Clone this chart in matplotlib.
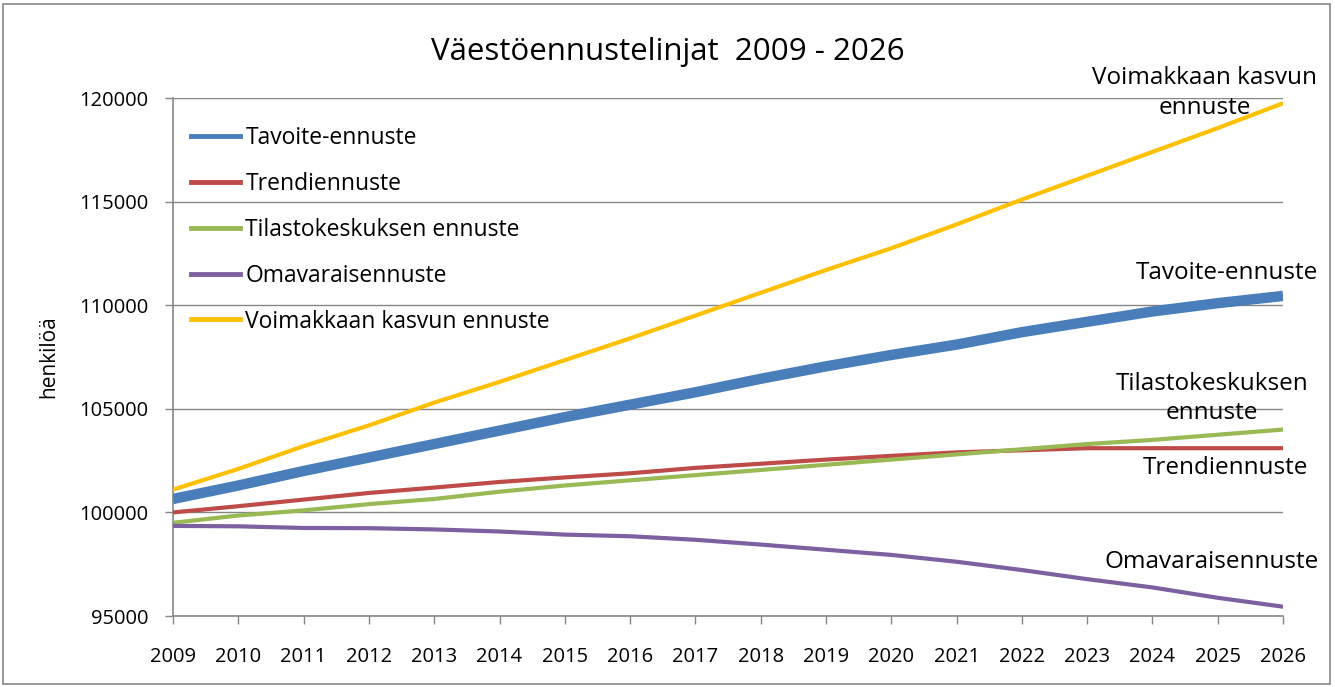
import matplotlib.pyplot as plt
from matplotlib.lines import Line2D
from matplotlib.patches import Rectangle

plt.rcParams['font.family'] = ['Open Sans', 'DejaVu Sans']

years = list(range(2009, 2027))

tavoite = [100650, 101300, 102000, 102650, 103300, 103950, 104600, 105200, 105800,
           106450, 107050, 107600, 108100, 108700, 109200, 109700, 110100, 110450]
trendi = [100000, 100300, 100620, 100940, 101200, 101470, 101690, 101890, 102150,
          102350, 102550, 102730, 102900, 103000, 103100, 103100, 103100, 103100]
tilasto = [99500, 99850, 100100, 100400, 100650, 101000, 101300, 101550, 101800,
           102050, 102300, 102550, 102800, 103050, 103300, 103500, 103750, 104000]
omavarais = [99350, 99330, 99250, 99240, 99180, 99080, 98930, 98850, 98680,
             98450, 98200, 97950, 97620, 97220, 96780, 96380, 95880, 95450]
voimakas = [101100, 102100, 103200, 104200, 105300, 106300, 107350, 108400, 109500,
            110600, 111700, 112750, 113900, 115100, 116250, 117400, 118550, 119750]

names = ['Tavoite-ennuste', 'Trendiennuste', 'Tilastokeskuksen ennuste',
         'Omavaraisennuste', 'Voimakkaan kasvun ennuste']
colors = ['#4a7ebb', '#be4b48', '#98b954', '#7d60a0', '#ffc000']
series = [tavoite, trendi, tilasto, omavarais, voimakas]
widths = [7.5, 3, 3, 3, 3]

fig = plt.figure(figsize=(13.35, 6.87), dpi=100)
ax = fig.add_axes([0.1296, 0.1033, 0.8315, 0.754])

# draw order: thin lines under the thick blue one
for i in [4, 1, 2, 3, 0]:
    ax.plot(years, series[i], color=colors[i], lw=widths[i], solid_capstyle='butt', zorder=3)

ax.set_xlim(2009, 2026)
ax.set_ylim(95000, 120000)
ax.set_xticks(years)
ax.set_yticks(range(95000, 120001, 5000))
ax.tick_params(axis='both', labelsize=14.5, color='#868686', length=6, width=1)
ax.tick_params(axis='x', pad=16)
ax.tick_params(axis='y', pad=12)
ax.grid(axis='y', color='#868686', lw=1)
ax.set_axisbelow(True)
for s in ['top', 'right']:
    ax.spines[s].set_visible(False)
for s in ['left', 'bottom']:
    ax.spines[s].set_color('#868686')
    ax.spines[s].set_linewidth(1.2)

ax.set_ylabel('henkilöä', fontsize=15, labelpad=14)
fig.text(0.5, 0.925, 'Väestöennustelinjat  2009 - 2026', fontsize=22.5, ha='center', va='center')

handles = [Line2D([0], [0], color=c, lw=3.5) for c in colors]
ax.legend(handles, names, loc='upper left', bbox_to_anchor=(-0.002, 0.985), frameon=False,
          fontsize=16.5, handlelength=2.1, handletextpad=0.25, labelspacing=0.95)

# labels at the right end of the lines
lab = 17.5
ax.text(2024.8, 120250, 'Voimakkaan kasvun\nennuste', fontsize=lab, ha='center', va='center',
        linespacing=1.3)
ax.text(2025.14, 111550, 'Tavoite-ennuste', fontsize=lab, ha='center', va='center')
ax.text(2024.91, 105500, 'Tilastokeskuksen\nennuste', fontsize=lab, ha='center', va='center',
        linespacing=1.25)
ax.text(2025.11, 102140, 'Trendiennuste', fontsize=lab, ha='center', va='center')
ax.text(2024.91, 97600, 'Omavaraisennuste', fontsize=lab, ha='center', va='center')

fig.patches.append(Rectangle((0.002, 0.004), 0.994, 0.99, transform=fig.transFigure,
                             fill=False, edgecolor='#868686', lw=1.2))

fig.savefig('out.png', dpi=100)
